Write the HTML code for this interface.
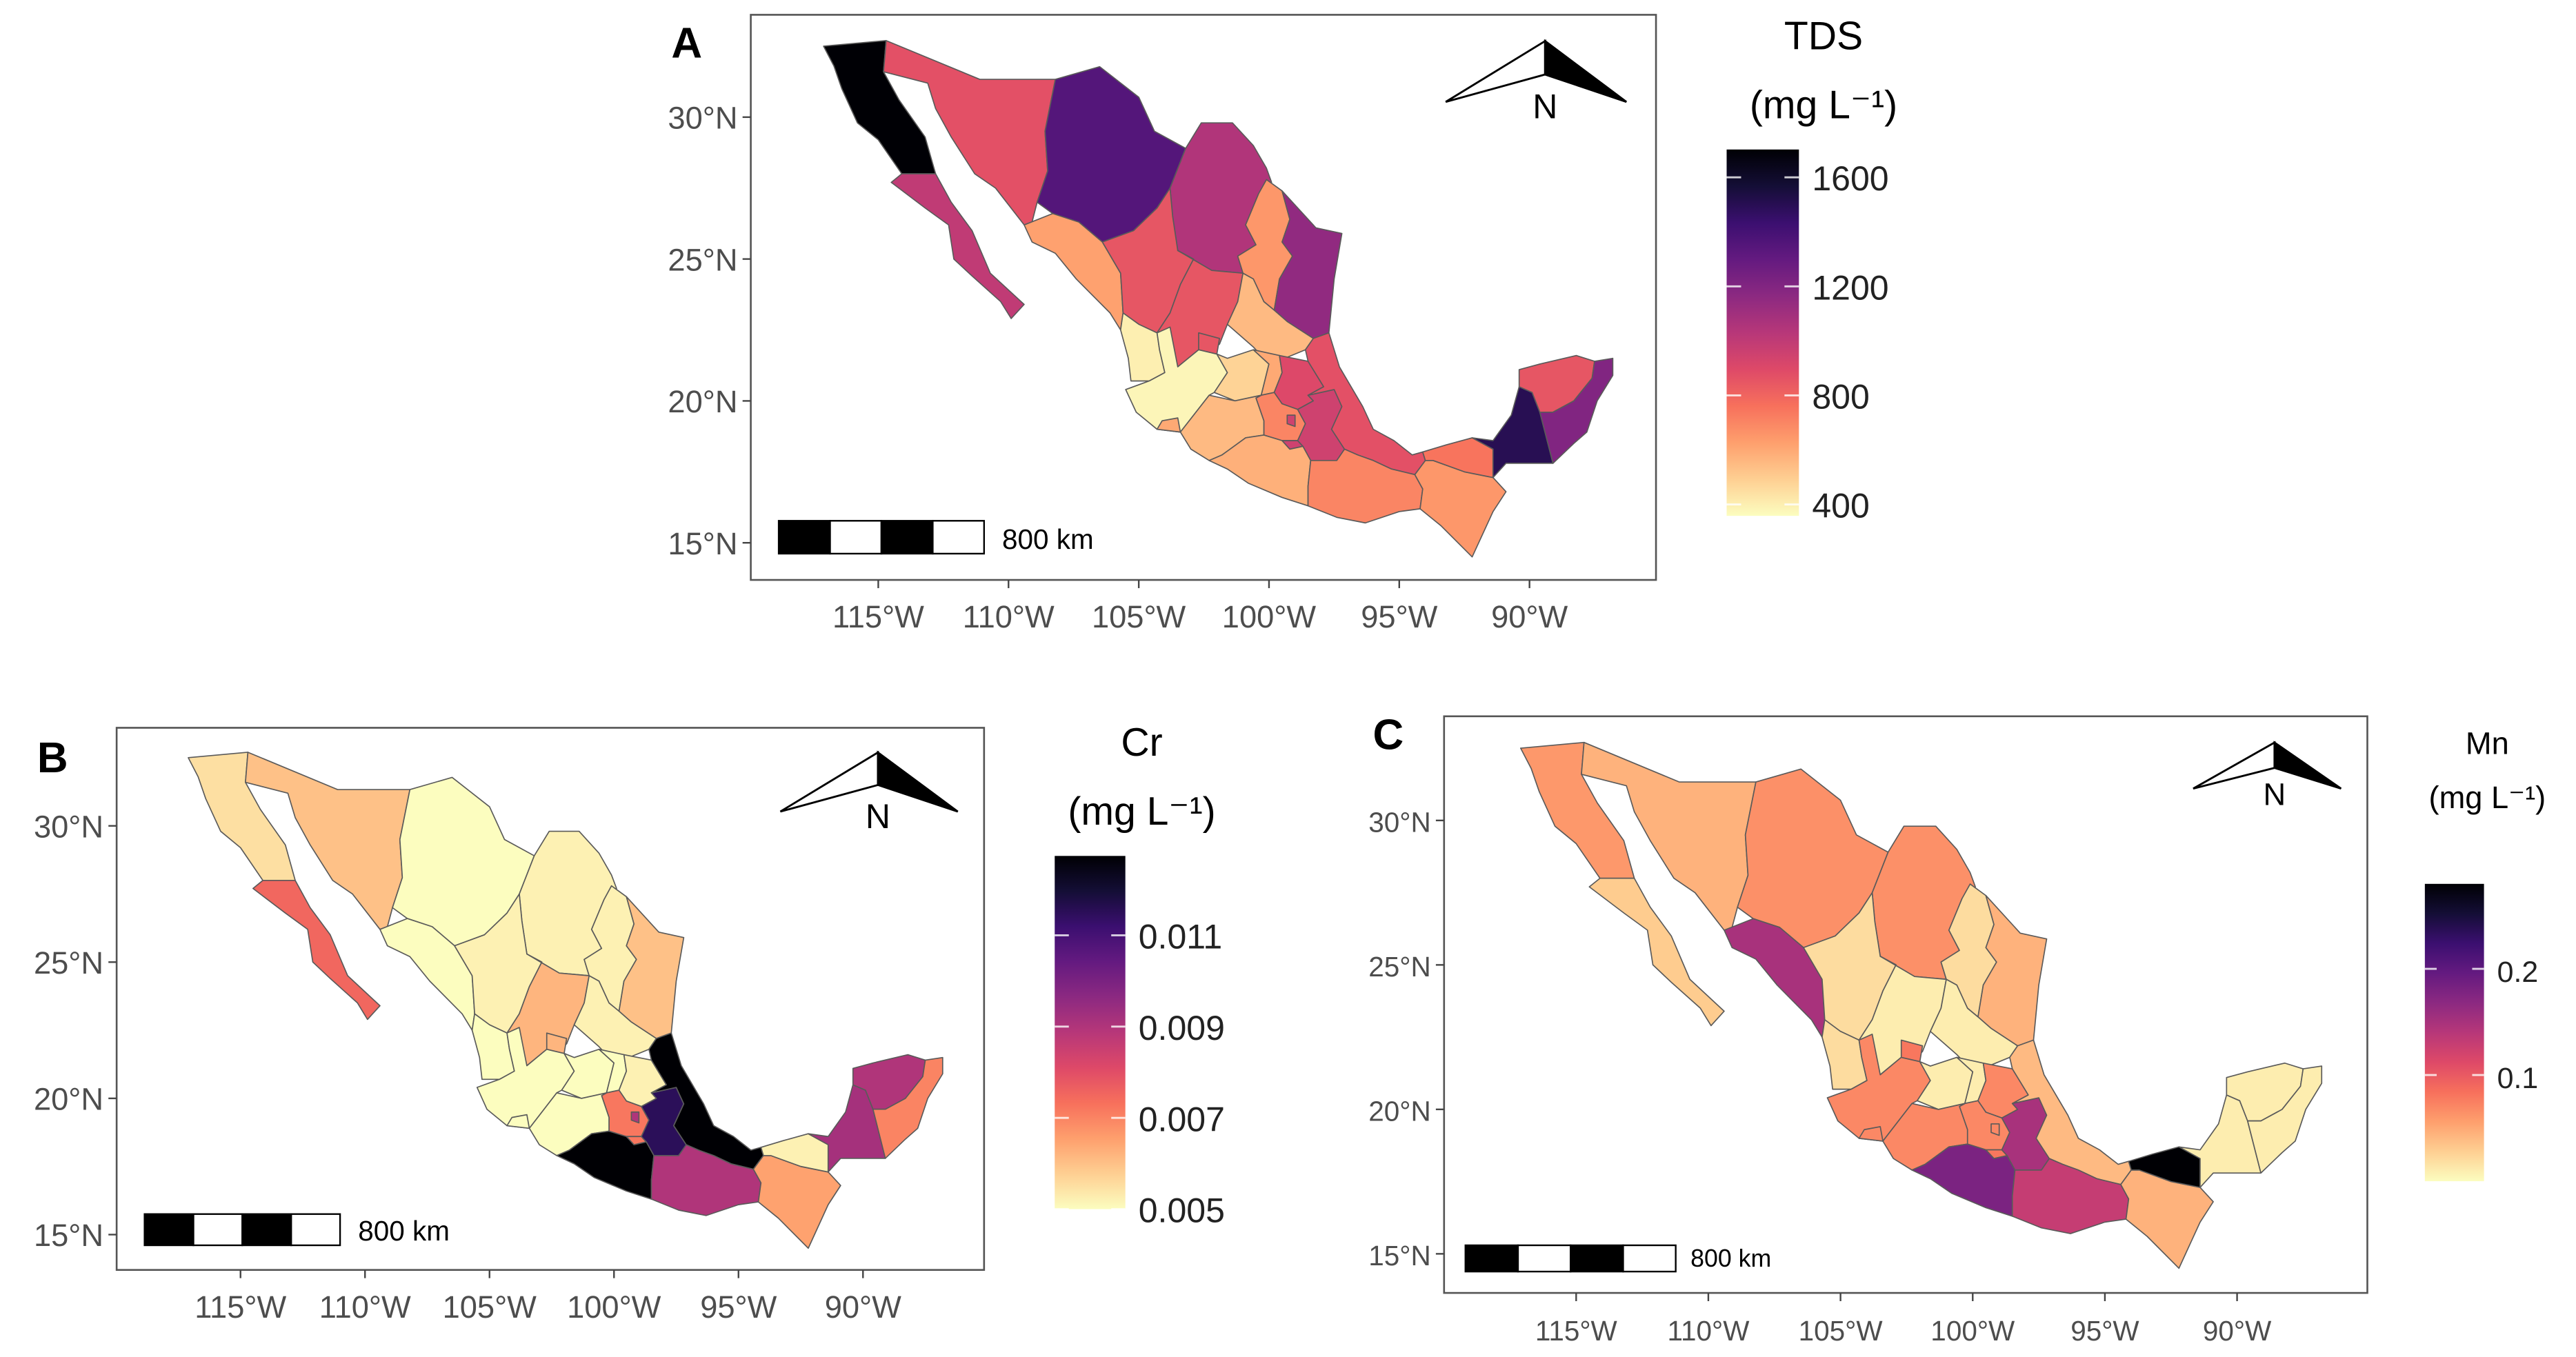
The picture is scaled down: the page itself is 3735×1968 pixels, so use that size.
<!DOCTYPE html>
<html><head><meta charset="utf-8">
<style>
html,body{margin:0;padding:0;background:#fff;}
svg{display:block;}
text{font-family:"Liberation Sans",sans-serif;}
</style></head>
<body>
<svg id="fig" width="3735" height="1968" viewBox="0 0 1568 826" preserveAspectRatio="none" xmlns="http://www.w3.org/2000/svg">
<defs>
<linearGradient id="magma" x1="0" y1="1" x2="0" y2="0">
<stop offset="0" stop-color="#fcfdbf"/><stop offset="0.1" stop-color="#fecf92"/><stop offset="0.2" stop-color="#fe9f6d"/>
<stop offset="0.3" stop-color="#f7705c"/><stop offset="0.4" stop-color="#de4968"/><stop offset="0.5" stop-color="#b73779"/>
<stop offset="0.6" stop-color="#8c2981"/><stop offset="0.7" stop-color="#641a80"/><stop offset="0.8" stop-color="#3b0f70"/>
<stop offset="0.9" stop-color="#140e36"/><stop offset="1" stop-color="#000004"/>
</linearGradient>
</defs>
</svg>
<script>
// Data
const states = ["BC","BCS","SON","CHH","COA","NLE","TAM","SIN","DUR","ZAC","SLP","NAY","JAL","AGU","GUA","QUE","HID","MEX","CMX","MOR","TLA","PUE","VER","MIC","COL","GRO","OAX","CHP","TAB","CAM","YUC","ROO"];
const tdsValues = [1700,1000,870,1350,1050,650,1150,620,850,850,550,400,380,850,480,600,900,700,950,950,900,950,870,550,600,580,700,650,750,1500,850,1200];
const crValues = [0.0055,0.0075,0.006,0.005,0.0052,0.0052,0.006,0.005,0.0052,0.0062,0.0052,0.005,0.005,0.0062,0.005,0.005,0.0052,0.0072,0.009,0.0072,0.011,0.0115,0.0128,0.005,0.005,0.0128,0.009,0.0065,0.0052,0.0092,0.009,0.007];
const mnValues = [0.06,0.03,0.045,0.065,0.065,0.02,0.045,0.15,0.02,0.01,0.01,0.02,0.07,0.08,0.01,0.01,0.07,0.07,0.07,0.08,0.08,0.15,0.04,0.07,0.07,0.18,0.13,0.045,0.28,0.01,0.01,0.01];
const latTicks = [15,20,25,30];
const lonTicks = [-115,-110,-105,-100,-95,-90];
const tdsTicks = [400,800,1200,1600];
const crTicks = [0.005,0.007,0.009,0.011];
const mnTicks = [0.1,0.2];

const geo = {
BC:[[-117.1,32.5],[-114.7,32.7],[-114.8,31.6],[-114.2,30.6],[-113.2,29.3],[-112.8,28],[-114.1,28],[-115,29.2],[-115.8,29.8],[-116.4,31],[-116.7,31.8]],
BCS:[[-114.1,28],[-112.8,28],[-112.2,27],[-111.4,26],[-110.7,24.5],[-109.4,23.4],[-109.9,22.9],[-110.3,23.5],[-111.4,24.4],[-112.1,25],[-112.3,26.2],[-113.2,26.8],[-114.5,27.7]],
SON:[[-114.7,32.7],[-111.1,31.33],[-108.2,31.33],[-108.6,29.5],[-108.5,28.1],[-108.9,27],[-109.1,26.3],[-109.4,26.2],[-110.5,27.5],[-111.3,28],[-112.2,29.3],[-112.8,30.3],[-113.1,31.2],[-114.8,31.6]],
CHH:[[-108.2,31.33],[-106.5,31.78],[-105,30.7],[-104.4,29.5],[-103.2,28.9],[-103.8,27.5],[-104.3,26.8],[-105.2,26],[-106.4,25.6],[-107.3,26.3],[-108.3,26.6],[-108.9,27],[-108.5,28.1],[-108.6,29.5]],
COA:[[-103.2,28.9],[-102.6,29.8],[-101.4,29.8],[-100.6,29],[-100.1,28.2],[-99.9,27.7],[-100.4,27.3],[-100.9,26.2],[-100.5,25.5],[-101.2,25.1],[-101.0,24.5],[-102.2,24.6],[-103.5,25.3],[-103.7,26.5],[-103.8,27.5]],
NLE:[[-100.1,27.8],[-99.5,27.4],[-99.2,26.4],[-99.5,25.6],[-99.1,25.1],[-99.6,24.3],[-99.8,23.2],[-100.2,23.5],[-100.6,24.3],[-101.0,24.5],[-101.2,25.1],[-100.5,25.5],[-100.9,26.2],[-100.4,27.3]],
TAM:[[-99.5,27.4],[-98.2,26.1],[-97.2,25.9],[-97.5,24.3],[-97.7,22.4],[-98.3,22.2],[-99.3,22.8],[-99.8,23.2],[-99.6,24.3],[-99.1,25.1],[-99.5,25.6],[-99.2,26.4]],
SIN:[[-109.4,26.2],[-108.3,26.6],[-107.3,26.3],[-106.4,25.6],[-105.7,24.5],[-105.6,23.1],[-105.7,22.5],[-106.1,23.1],[-107.4,24.3],[-108.2,25.2],[-109.1,25.6]],
DUR:[[-106.4,25.6],[-105.2,26],[-104.3,26.8],[-103.8,27.5],[-103.7,26.5],[-103.5,25.3],[-102.9,25],[-103.4,24.1],[-103.8,23.1],[-104.3,22.4],[-105,22.7],[-105.6,23.1],[-105.7,24.5]],
ZAC:[[-103.5,25.3],[-102.2,24.6],[-101.0,24.5],[-101.2,23.5],[-101.6,22.7],[-101.9,22.0],[-102.3,21.7],[-102.7,21.8],[-103.5,21.2],[-104.2,21.8],[-104.3,22.4],[-103.8,23.1],[-103.4,24.1],[-102.9,25]],
SLP:[[-101.0,24.5],[-100.6,24.3],[-100.2,23.5],[-99.8,23.2],[-99.3,22.8],[-98.3,22.2],[-98.6,21.8],[-99.4,21.5],[-100.3,21.6],[-100.6,21.9],[-101.6,22.7],[-101.2,23.5]],
NAY:[[-105.7,22.5],[-105.6,23.1],[-105,22.7],[-104.3,22.4],[-104.2,21.8],[-104.0,21.0],[-104.6,20.7],[-105.3,20.7],[-105.4,21.5]],
JAL:[[-105.5,20.4],[-104.6,20.7],[-104.0,21.0],[-104.2,21.8],[-104.3,22.4],[-103.8,22.6],[-103.5,21.2],[-102.7,21.8],[-102.0,21.65],[-101.6,21.0],[-102.1,20.3],[-102.3,20.2],[-103.4,18.9],[-104.3,19.0],[-105.1,19.6]],
AGU:[[-102.7,22.4],[-101.9,22.2],[-102.0,21.65],[-102.7,21.8]],
GUA:[[-102.0,21.65],[-101.6,21.5],[-100.6,21.8],[-100.0,21.3],[-100.3,20.2],[-101.3,20.0],[-102.1,20.3],[-101.6,21.0]],
QUE:[[-100.6,21.8],[-99.6,21.6],[-99.5,21.0],[-99.8,20.3],[-100.3,20.2],[-100.0,21.3]],
HID:[[-99.6,21.6],[-98.5,21.4],[-97.9,20.5],[-98.5,20.2],[-98.3,20.0],[-98.9,19.7],[-99.5,19.9],[-99.8,20.3],[-99.5,21.0]],
MEX:[[-100.3,20.2],[-99.8,20.3],[-99.5,19.9],[-98.9,19.7],[-98.6,19.2],[-98.9,18.6],[-99.5,18.6],[-100.2,18.8],[-100.2,19.3],[-100.5,20.1]],
CMX:[[-99.3,19.5],[-99.0,19.5],[-99.0,19.1],[-99.3,19.2]],
MOR:[[-99.5,18.6],[-98.9,18.6],[-98.7,18.4],[-99.2,18.3]],
TLA:[[-98.7,19.7],[-97.7,19.5],[-97.9,19.1],[-98.5,19.2]],
PUE:[[-98.5,20.2],[-97.5,20.4],[-97.2,19.8],[-97.6,19.0],[-97.1,18.3],[-97.4,17.9],[-98.4,17.9],[-98.7,18.4],[-98.9,18.6],[-98.6,19.2],[-98.9,19.7],[-98.3,20.0]],
VER:[[-98.3,22.2],[-97.7,22.4],[-97.3,21.2],[-96.4,19.8],[-96.0,19.0],[-95.2,18.6],[-94.5,18.1],[-94.1,18.2],[-94.0,17.9],[-94.4,17.4],[-95.3,17.6],[-96.0,17.9],[-96.6,18.1],[-97.1,18.3],[-97.6,19.0],[-97.2,19.8],[-97.5,20.4],[-98.5,20.2],[-97.9,20.5],[-98.5,21.4],[-98.6,21.8]],
MIC:[[-103.4,18.9],[-102.3,20.2],[-101.3,20.0],[-100.3,20.2],[-100.5,20.1],[-100.2,19.3],[-100.2,18.8],[-100.9,18.7],[-101.8,18.1],[-102.3,17.9],[-103.0,18.3]],
COL:[[-104.3,19.0],[-103.4,18.9],[-103.5,19.4],[-104.1,19.3]],
GRO:[[-102.3,17.9],[-101.8,18.1],[-100.9,18.7],[-100.2,18.8],[-99.5,18.6],[-99.2,18.3],[-98.7,18.4],[-98.4,17.9],[-98.5,17.0],[-98.5,16.3],[-99.5,16.6],[-100.8,17.1],[-101.6,17.6]],
OAX:[[-98.5,16.3],[-98.5,17.0],[-98.4,17.9],[-97.4,17.9],[-97.1,18.3],[-96.6,18.1],[-96.0,17.9],[-95.3,17.6],[-94.4,17.4],[-94.1,16.9],[-94.2,16.2],[-95.0,16.1],[-96.3,15.7],[-97.4,15.9]],
CHP:[[-94.4,17.4],[-94.0,17.9],[-93.7,17.9],[-92.5,17.5],[-91.4,17.3],[-90.9,16.8],[-91.4,16.1],[-92.2,14.5],[-93.4,15.6],[-94.2,16.2],[-94.1,16.9]],
TAB:[[-94.1,18.2],[-93.2,18.45],[-92.2,18.7],[-91.4,18.3],[-91.4,17.3],[-92.5,17.5],[-93.7,17.9],[-94.0,17.9]],
CAM:[[-92.2,18.7],[-91.4,18.6],[-90.7,19.5],[-90.4,20.5],[-89.9,20.3],[-89.6,19.6],[-89.1,17.8],[-90.9,17.8],[-91.4,17.3],[-91.4,18.3]],
YUC:[[-90.4,20.5],[-90.4,21.1],[-89.6,21.3],[-88.2,21.6],[-87.5,21.4],[-87.6,20.8],[-88.3,20.0],[-89.1,19.6],[-89.6,19.6],[-89.9,20.3]],
ROO:[[-87.5,21.4],[-86.8,21.5],[-86.8,20.9],[-87.4,20.0],[-87.8,18.9],[-88.3,18.5],[-89.1,17.8],[-89.6,19.6],[-89.1,19.6],[-88.3,20.0],[-87.6,20.8]]
};

const magmaStops=["#000004","#140e36","#3b0f70","#641a80","#8c2981","#b73779","#de4968","#f7705c","#fe9f6d","#fecf92","#fcfdbf"];
function hex(c){return [1,3,5].map(i=>parseInt(c.substr(i,2),16));}
function magma(t){t=Math.max(0,Math.min(1,t));const u=(1-t)*10;const i=Math.min(9,Math.floor(u));const f=u-i;
 const a=hex(magmaStops[i]),b=hex(magmaStops[i+1]);return "rgb("+a.map((v,k)=>Math.round(v+(b[k]-v)*f)).join(",")+")";}

const NS="http://www.w3.org/2000/svg";
const svg=document.getElementById("fig");
function el(tag,attrs,parent){const e=document.createElementNS(NS,tag);for(const k in attrs)e.setAttribute(k,attrs[k]);(parent||svg).appendChild(e);return e;}

const panels=[
 {id:"a",label:"A",lx:418,ly:35,box:[457,9,1008,353],x115:534.6,x90:931,y30:71.3,y15:330.4,values:tdsValues,vmin:358,vmax:1702,ticks:tdsTicks,fmt:v=>String(v),
  cb:[1051,91,1095,314],title:"TDS",tx:1110,ty1:30,ty2:72,tfs:24,lfs:21,arrow:[880,25,990,62],sb:[474,317,599,337],sbt:[610,334],sfs:17,afs:19},
 {id:"b",label:"B",lx:32,ly:470,box:[71,443,599,773],x115:146.4,x90:525.3,y30:502.7,y15:751.5,values:crValues,vmin:0.005,vmax:0.01274,ticks:crTicks,fmt:v=>v.toFixed(3),
  cb:[642,521,685,736],title:"Cr",tx:695,ty1:460,ty2:502,tfs:24,lfs:21,arrow:[475,458,583,494],sb:[88,739,207,758],sbt:[218,755],sfs:17,afs:19},
 {id:"c",label:"C",lx:845,ly:456,box:[879,436,1441,787],x115:959.4,x90:1361.7,y30:499.4,y15:763.2,values:mnValues,vmin:0,vmax:0.28,ticks:mnTicks,fmt:v=>v.toFixed(1),
  cb:[1476,538,1512,719],title:"Mn",tx:1514,ty1:459,ty2:492,tfs:19,lfs:18,arrow:[1335,452,1425,480],sb:[892,758,1020,774],sbt:[1029,771],sfs:15,afs:17}
];

panels.forEach(p=>{
 const g=el("g",{});
 
 
 const sx=(p.x90-p.x115)/25, sy=(p.y15-p.y30)/15;
 const X=lon=>p.x115+(lon+115)*sx, Y=lat=>p.y30+(30-lat)*sy;
 const [bx0,by0,bx1,by1]=p.box;
 const frame=el("rect",{x:bx0,y:by0,width:bx1-bx0,height:by1-by0,fill:"#fff",stroke:"#555","stroke-width":1.1},g);
 
 
 const lab=el("text",{x:p.lx,y:p.ly,"font-size":26,"font-weight":"bold","text-anchor":"middle",fill:"#000"},g);
 lab.textContent=p.label;
 
 
 states.forEach((s,i)=>{
  const pts=geo[s].map(c=>X(c[0]).toFixed(1)+","+Y(c[1]).toFixed(1)).join(" ");
  const t=(p.values[i]-p.vmin)/(p.vmax-p.vmin);
  const poly=el("polygon",{points:pts,fill:magma(t),stroke:"#5a5a5a","stroke-width":0.7,"stroke-linejoin":"round"},g);
  
  
 });
 latTicks.forEach(l=>{
  const y=Y(l);
  el("line",{x1:bx0-5,x2:bx0,y1:y,y2:y,stroke:"#444","stroke-width":1},g);
  const t=el("text",{x:bx0-8,y:y+7,"font-size":p.afs,"text-anchor":"end",fill:"#4d4d4d"},g);
  t.textContent=l+"°N";
  
  
 });
 lonTicks.forEach(l=>{
  const x=X(l);
  el("line",{x1:x,x2:x,y1:by1,y2:by1+5,stroke:"#444","stroke-width":1},g);
  const t=el("text",{x:x,y:by1+29,"font-size":p.afs,"text-anchor":"middle",fill:"#4d4d4d"},g);
  t.textContent=(-l)+"°W";
  
  
 });
 const [ax0,ay0,ax1,ay1]=p.arrow; const cx=(ax0+ax1)/2+(ax1-ax0)*0.05, cy=ay0+(ay1-ay0)*0.55;
 const na=el("g",{},g);
 
 
 el("polygon",{points:`${cx},${ay0} ${ax0},${ay1} ${cx},${cy}`,fill:"#fff",stroke:"#000","stroke-width":1.2},na);
 el("polygon",{points:`${cx},${ay0} ${ax1},${ay1} ${cx},${cy}`,fill:"#000",stroke:"#000","stroke-width":1.2},na);
 const nt=el("text",{x:cx,y:ay1+10,"font-size":p.afs+2,"text-anchor":"middle",fill:"#000"},na);
 nt.textContent="N";
 const [sx0,sy0,sx1,sy1]=p.sb; const w=(sx1-sx0)/4;
 const sbg=el("g",{},g);
 
 
 for(let k=0;k<4;k++) el("rect",{x:sx0+k*w,y:sy0,width:w,height:sy1-sy0,fill:k%2?"#fff":"#000",stroke:"#000","stroke-width":1},sbg);
 const st=el("text",{x:p.sbt[0],y:p.sbt[1],"font-size":p.sfs,fill:"#000"},sbg);
 st.textContent="800 km";
 const [c0,c1,c2,c3]=p.cb;
 const cbr=el("rect",{x:c0,y:c1,width:c2-c0,height:c3-c1,fill:"url(#magma)"},g);
 
 
 p.ticks.forEach(v=>{
  const y=c3-(v-p.vmin)/(p.vmax-p.vmin)*(c3-c1);
  el("line",{x1:c0,x2:c0+(c2-c0)*0.2,y1:y,y2:y,stroke:"#fff","stroke-width":1.2,opacity:0.8},g);
  el("line",{x1:c2-(c2-c0)*0.2,x2:c2,y1:y,y2:y,stroke:"#fff","stroke-width":1.2,opacity:0.8},g);
  const t=el("text",{x:c2+8,y:y+8,"font-size":p.lfs,fill:"#222"},g);
  t.textContent=p.fmt(v);
  
  
 });
 const t1=el("text",{x:p.tx,y:p.ty1,"font-size":p.tfs,"text-anchor":"middle",fill:"#000"},g);
 t1.textContent=p.title;
 
 
 const t2=el("text",{x:p.tx,y:p.ty2,"font-size":p.tfs,"text-anchor":"middle",fill:"#000"},g);
 t2.textContent="(mg L⁻¹)";
 
 
});
</script>
</body></html>
